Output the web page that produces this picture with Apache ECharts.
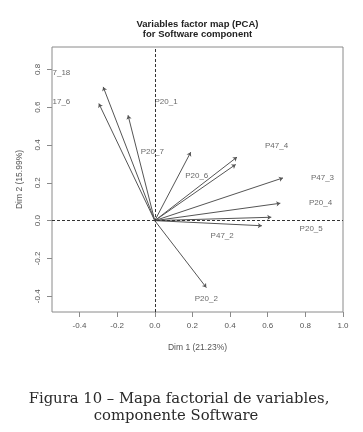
<!DOCTYPE html>
<html>
<head>
<meta charset="utf-8">
<script src="https://cdn.jsdelivr.net/npm/echarts@6/dist/echarts.min.js"></script>
<style>
html,body{margin:0;padding:0;background:#fff;}
#chart{width:363px;height:432px;}
</style>
</head>
<body>
<div id="chart"></div>
<script>
// Arrow end points (Dim 1, Dim 2)
var arrowDim1 = [-0.274, -0.297, -0.142, 0.191, 0.437, 0.430, 0.681, 0.667, 0.619, 0.569, 0.274];
var arrowDim2 = [0.707, 0.619, 0.557, 0.362, 0.336, 0.297, 0.226, 0.092, 0.018, -0.027, -0.354];
// Variable labels as shown (left ones are cut by the plot edge)
var labelText = ['7_18', '17_6', 'P20_1', 'P20_7', 'P47_4', 'P20_6', 'P47_3', 'P20_4', 'P20_5', 'P47_2', 'P20_2'];
var labelDim1 = [-0.496, -0.496, 0.060, -0.013, 0.647, 0.223, 0.891, 0.881, 0.831, 0.358, 0.274];
var labelDim2 = [0.780, 0.628, 0.628, 0.362, 0.394, 0.239, 0.226, 0.094, -0.041, -0.080, -0.415];
// Axis ticks and ranges
var xTicks = [-0.4, -0.2, 0.0, 0.2, 0.4, 0.6, 0.8, 1.0];
var yTicks = [-0.4, -0.2, 0.0, 0.2, 0.4, 0.6, 0.8];
var xRange = [-0.546, 1.0];
var yRange = [-0.483, 0.918];
var xTitle = 'Dim 1 (21.23%)';
var yTitle = 'Dim 2 (15.99%)';
var chartTitle = ['Variables factor map (PCA)', 'for Software component'];
var caption = ['Figura 10 \u2013 Mapa factorial de variables,', 'componente Software'];

var chart = echarts.init(document.getElementById('chart'), null, {renderer: 'canvas'});
var fmt = function (v) { return Number(v).toFixed(1); };

var option = {
  animation: false,
  backgroundColor: '#fff',
  grid: {left: 52, right: 20, top: 47, bottom: 120, show: true, borderColor: '#8a8a8a', borderWidth: 1, containLabel: false},
  xAxis: {
    type: 'value', min: xRange[0], max: xRange[1],
    axisLine: {show: false, onZero: false},
    axisTick: {show: true, inside: false, customValues: xTicks, length: 5, lineStyle: {color: '#8a8a8a'}},
    axisLabel: {show: true, customValues: xTicks, formatter: fmt, fontSize: 8, color: '#555', margin: 10, fontFamily: 'Liberation Sans'},
    splitLine: {show: false},
    name: xTitle, nameLocation: 'middle', nameGap: 31,
    nameTextStyle: {fontSize: 8.5, color: '#555', fontFamily: 'Liberation Sans'}
  },
  yAxis: {
    type: 'value', min: yRange[0], max: yRange[1],
    axisLine: {show: false, onZero: false},
    axisTick: {show: true, inside: false, customValues: yTicks, length: 5, lineStyle: {color: '#8a8a8a'}},
    axisLabel: {show: true, customValues: yTicks, formatter: fmt, fontSize: 8, color: '#555', margin: 10, rotate: 90, fontFamily: 'Liberation Sans'},
    splitLine: {show: false},
    name: yTitle, nameLocation: 'middle', nameGap: 28, nameRotate: 90,
    nameTextStyle: {fontSize: 8.5, color: '#555', fontFamily: 'Liberation Sans'}
  },
  series: [
    {
      type: 'lines', coordinateSystem: 'cartesian2d', silent: true,
      symbol: ['none', 'arrow'], symbolSize: 4,
      lineStyle: {color: '#555', width: 1, opacity: 1},
      data: arrowDim1.map(function (x, i) { return {coords: [[0, 0], [x, arrowDim2[i]]]}; }),
      markLine: {
        silent: true, symbol: 'none', label: {show: false},
        lineStyle: {type: [3, 2], color: '#333', width: 1},
        data: [{xAxis: 0}, {yAxis: 0}]
      }
    },
    {
      type: 'scatter', silent: true, symbolSize: 0,
      data: labelText.map(function (t, i) { return {name: t, value: [labelDim1[i], labelDim2[i]]}; }),
      label: {show: true, position: 'inside', formatter: '{b}', color: '#444', fontSize: 8, fontFamily: 'Liberation Sans'}
    }
  ],
  graphic: [
    {type: 'text', x: 197.5, y: 24, style: {text: chartTitle[0], textAlign: 'center', textVerticalAlign: 'middle', font: 'bold 9.5px "Liberation Sans"', fill: '#222'}},
    {type: 'text', x: 197.5, y: 34, style: {text: chartTitle[1], textAlign: 'center', textVerticalAlign: 'middle', font: 'bold 9.5px "Liberation Sans"', fill: '#222'}},
    {type: 'text', x: 179, y: 399, style: {text: caption[0], textAlign: 'center', textVerticalAlign: 'middle', font: '14.8px "DejaVu Serif"', fill: '#2a2a2a'}},
    {type: 'text', x: 176, y: 416.5, style: {text: caption[1], textAlign: 'center', textVerticalAlign: 'middle', font: '14.8px "DejaVu Serif"', fill: '#2a2a2a'}}
  ]
};
chart.setOption(option);
</script>
</body>
</html>
